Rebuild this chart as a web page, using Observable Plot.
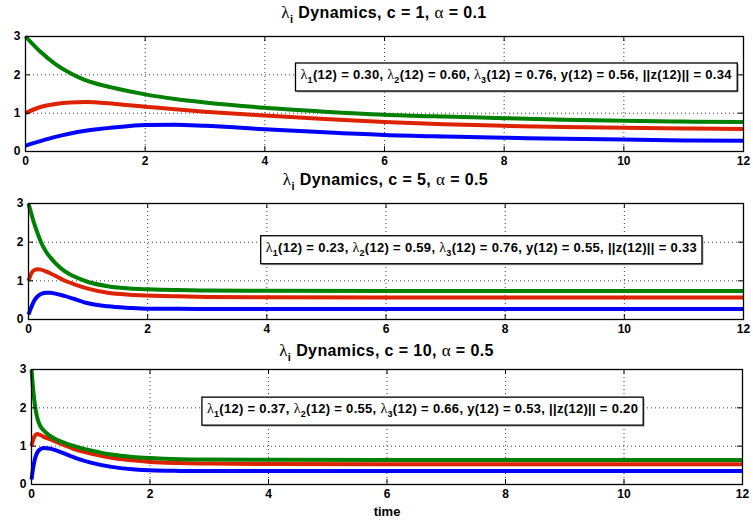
<!DOCTYPE html>
<html>
<head>
<meta charset="utf-8">
<script src="https://cdn.jsdelivr.net/npm/d3@7"></script>
<script src="https://cdn.jsdelivr.net/npm/@observablehq/plot@0.6"></script>
<style>
  body { margin: 0; background: #fff; }
  #chart { position: relative; width: 753px; height: 525px; font-family: "Liberation Sans", Arial, Helvetica, sans-serif; overflow: hidden; }
  .ptitle { position: absolute; text-align: center; font-weight: bold; font-size: 16px; letter-spacing: 0.4px; color: #000; white-space: nowrap; }
  .sym { font-family: "Liberation Serif", "DejaVu Serif", serif; font-weight: normal; font-size: 17px; }
  .ptitle sub { font-size: 11px; vertical-align: -5px; line-height: 0; }
  svg.panel { position: absolute; left: 0; }
</style>
</head>
<body>
<div id="chart"></div>
<script>
// ---------- data ----------
const xTicks = [0, 2, 4, 6, 8, 10, 12];
const yTicks = [0, 1, 2, 3];
const cValues = [1, 5, 10];
const alphaValues = [0.1, 0.5, 0.5];

// panel 1 (c = 1, alpha = 0.1)
const time1    = [0, 0.25, 0.5, 0.75, 1, 1.5, 2, 2.5, 3, 4, 5, 6, 7, 8, 9, 10, 11, 12];
const lambda1_1 = [0.15, 0.27, 0.38, 0.47, 0.54, 0.63, 0.69, 0.70, 0.67, 0.58, 0.50, 0.43, 0.39, 0.36, 0.33, 0.31, 0.29, 0.28];
const lambda2_1 = [1.00, 1.16, 1.24, 1.28, 1.29, 1.24, 1.17, 1.10, 1.04, 0.94, 0.85, 0.77, 0.71, 0.67, 0.64, 0.62, 0.60, 0.59];
const lambda3_1 = [3.00, 2.60, 2.28, 2.04, 1.86, 1.65, 1.49, 1.37, 1.28, 1.14, 1.04, 0.96, 0.91, 0.87, 0.83, 0.80, 0.78, 0.77];

// panel 2 (c = 5, alpha = 0.5)
const time2    = [0, 0.05, 0.1, 0.16, 0.21, 0.3, 0.37, 0.45, 0.6, 0.77, 1, 1.33, 1.7, 2, 2.5, 3, 4, 6, 8, 10, 12];
const lambda1_2 = [0.13, 0.33, 0.50, 0.61, 0.66, 0.69, 0.69, 0.67, 0.61, 0.53, 0.42, 0.34, 0.30, 0.28, 0.275, 0.27, 0.27, 0.27, 0.27, 0.27, 0.27];
const lambda2_2 = [1.00, 1.20, 1.28, 1.30, 1.29, 1.24, 1.19, 1.13, 1.01, 0.91, 0.80, 0.69, 0.64, 0.62, 0.60, 0.585, 0.575, 0.57, 0.57, 0.57, 0.57];
const lambda3_2 = [3.00, 2.72, 2.46, 2.20, 2.00, 1.74, 1.60, 1.46, 1.26, 1.11, 0.97, 0.86, 0.80, 0.78, 0.76, 0.75, 0.745, 0.74, 0.74, 0.74, 0.74];

// panel 3 (c = 10, alpha = 0.5)
const time3    = [0, 0.03, 0.06, 0.1, 0.15, 0.2, 0.3, 0.45, 0.6, 0.75, 1, 1.35, 1.7, 2, 2.5, 3, 4, 6, 8, 10, 12];
const lambda1_3 = [0.13, 0.45, 0.68, 0.84, 0.92, 0.95, 0.94, 0.87, 0.78, 0.69, 0.57, 0.46, 0.40, 0.37, 0.355, 0.35, 0.35, 0.35, 0.35, 0.35, 0.35];
const lambda2_3 = [1.00, 1.18, 1.28, 1.32, 1.29, 1.25, 1.19, 1.09, 1.00, 0.91, 0.81, 0.70, 0.63, 0.59, 0.56, 0.545, 0.535, 0.53, 0.53, 0.53, 0.53];
const lambda3_3 = [3.00, 2.45, 2.05, 1.72, 1.52, 1.42, 1.28, 1.15, 1.06, 0.99, 0.89, 0.78, 0.72, 0.69, 0.66, 0.65, 0.645, 0.64, 0.64, 0.64, 0.64];

// annotation values at t = 12
const endLambda1 = ["0.30", "0.23", "0.37"];
const endLambda2 = ["0.60", "0.59", "0.55"];
const endLambda3 = ["0.76", "0.76", "0.66"];
const endY       = ["0.56", "0.55", "0.53"];
const endZ       = ["0.34", "0.33", "0.20"];

const times = [time1, time2, time3];
const series = [
  {name: "λ1", color: "#0000ff", values: [lambda1_1, lambda1_2, lambda1_3]},
  {name: "λ2", color: "#dd2200", values: [lambda2_1, lambda2_2, lambda2_3]},
  {name: "λ3", color: "#008000", values: [lambda3_1, lambda3_2, lambda3_3]}
];

// ---------- layout ----------
const W = 753;
const layout = [
  {titleTop: 0,   titleH: 25, svgH: 143, mt: 11, mb: 17, ml: 25, mr: 10, ax: 8.2, ay: 2.0},
  {titleTop: 168, titleH: 24, svgH: 147, mt: 11, mb: 20, ml: 28, mr: 10, ax: 7.6, ay: 1.86},
  {titleTop: 339, titleH: 24, svgH: 162, mt: 6,  mb: 41, ml: 31, mr: 11, ax: 6.6, ay: 1.97}
];

const chart = document.getElementById("chart");
const FONT = "'Liberation Sans', Arial, Helvetica, sans-serif";
const ANNOT_SIZE = 13;

function annotationParts(i) {
  return [
    {t: "λ", sym: true}, {t: "1", sub: true}, {t: "(12) = " + endLambda1[i] + ", "},
    {t: "λ", sym: true}, {t: "2", sub: true}, {t: "(12) = " + endLambda2[i] + ", "},
    {t: "λ", sym: true}, {t: "3", sub: true}, {t: "(12) = " + endLambda3[i] + ", y(12) = " + endY[i] + ", ||z(12)|| = " + endZ[i]}
  ];
}

function richify(textEl, parts) {
  const t = d3.select(textEl);
  t.text(null);
  let shifted = false;
  parts.forEach(p => {
    const ts = t.append("tspan").text(p.t);
    if (p.sym) ts.attr("font-family", "'Liberation Serif', 'DejaVu Serif', serif").attr("font-weight", "normal").attr("font-size", ANNOT_SIZE + 1);
    if (p.sub) { ts.attr("dy", 4).attr("font-size", 9); shifted = true; }
    else if (shifted) { ts.attr("dy", -4); shifted = false; }
  });
}

layout.forEach((L, i) => {
  const title = document.createElement("div");
  title.className = "ptitle";
  title.style.left = L.ml + "px";
  title.style.width = (W - L.ml - L.mr) + "px";
  title.style.top = L.titleTop + "px";
  title.style.height = L.titleH + "px";
  title.style.lineHeight = L.titleH + "px";
  title.innerHTML = `<span class="sym">λ</span><sub>i</sub> Dynamics, c = ${cValues[i]}, <span class="sym">α</span> = ${alphaValues[i]}`;
  chart.appendChild(title);

  const innerH = L.svgH - L.mt - L.mb;
  const innerW = W - L.ml - L.mr;
  const interiorX = xTicks.slice(1, -1);
  const interiorY = yTicks.slice(1, -1);
  const annotText = annotationParts(i).map(p => p.t).join("");

  const marks = [
    Plot.gridX(interiorX, {stroke: "#000", strokeOpacity: 0.75, strokeDasharray: "1,3", strokeWidth: 1}),
    Plot.gridY(interiorY, {stroke: "#000", strokeOpacity: 0.75, strokeDasharray: "1,3", strokeWidth: 1}),
    ...series.map(s => Plot.lineY(times[i].map((t, j) => ({t, v: s.values[i][j]})), {
      x: "t", y: "v", stroke: s.color, strokeWidth: 4, curve: "monotone-x", strokeLinecap: "butt"
    })),
    Plot.text([annotText], {x: () => L.ax, y: () => L.ay, text: d => d, fontSize: ANNOT_SIZE, fontWeight: "bold", fill: "#000"}),
    Plot.frame({stroke: "#000", strokeWidth: 1.3}),
    Plot.tickX(xTicks, {x: d => d, insetTop: innerH - 5, stroke: "#000"}),
    Plot.tickX(xTicks, {x: d => d, insetBottom: innerH - 5, stroke: "#000"}),
    Plot.tickY(yTicks, {y: d => d, insetRight: innerW - 5, stroke: "#000"}),
    Plot.tickY(yTicks, {y: d => d, insetLeft: innerW - 5, stroke: "#000"}),
    Plot.axisX(xTicks, {tickSize: 0, tickPadding: 5, fontSize: 12, fontWeight: "bold", label: null}),
    Plot.axisY(yTicks, {tickSize: 0, tickPadding: 5, fontSize: 12, fontWeight: "bold", label: null})
  ];
  if (i === layout.length - 1) {
    marks.push(Plot.text(["time"], {frameAnchor: "bottom", dy: 31, text: d => d, fontSize: 13, fontWeight: "bold", fill: "#000"}));
  }

  const svg = Plot.plot({
    width: W,
    height: L.svgH,
    marginTop: L.mt, marginBottom: L.mb, marginLeft: L.ml, marginRight: L.mr,
    x: {domain: [0, 12], label: null},
    y: {domain: [0, 3], label: null},
    style: {fontFamily: FONT, color: "#000", background: "#fff", overflow: "visible"},
    marks
  });
  svg.classList.add("panel");
  svg.style.top = (L.titleTop + L.titleH) + "px";
  chart.appendChild(svg);

  // annotation: rich text + framed box
  const textEl = Array.from(svg.querySelectorAll("text")).find(el => el.textContent === annotText);
  if (textEl) {
    textEl.style.letterSpacing = "0.3px";
    richify(textEl, annotationParts(i));
    const bb = textEl.getBBox();
    const padX = 5, boxH = 28;
    const cy = bb.y + bb.height / 2 + 1;
    const g = textEl.parentNode;
    const tf = textEl.getAttribute("transform");
    const mk = (dx, fill, stroke) => {
      const r = document.createElementNS("http://www.w3.org/2000/svg", "rect");
      r.setAttribute("x", bb.x - padX + dx);
      r.setAttribute("y", cy - boxH / 2 + dx);
      r.setAttribute("width", bb.width + 2 * padX);
      r.setAttribute("height", boxH);
      r.setAttribute("fill", fill);
      r.setAttribute("stroke", stroke);
      r.setAttribute("stroke-width", 1.3);
      if (tf) r.setAttribute("transform", tf);
      return r;
    };
    g.insertBefore(mk(1.5, "#aaa", "none"), textEl);
    g.insertBefore(mk(0, "#fff", "#000"), textEl);
  }
});
</script>
</body>
</html>
